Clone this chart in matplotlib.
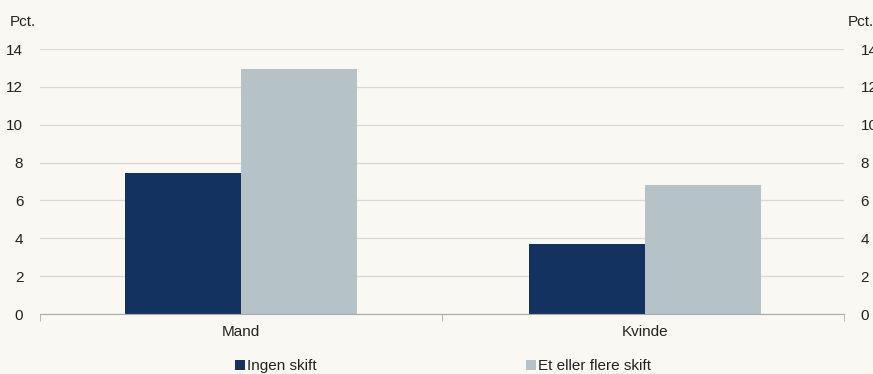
import matplotlib.pyplot as plt
import numpy as np

CATEGORIES = ["Mand", "Kvinde"]
SERIES_NAMES = ["Ingen skift", "Et eller flere skift"]
INGEN_SKIFT = [7.45, 3.72]
FLERE_SKIFT = [12.95, 6.8]
Y_TICKS = [0, 2, 4, 6, 8, 10, 12, 14]

BACKGROUND = "#f9f8f2"
DARK = "#14325f"
LIGHT = "#b5c3c8"

plt.rcParams["font.family"] = ["Liberation Sans", "DejaVu Sans"]


def main() -> None:
    figure = plt.figure(figsize=(8.73, 3.74), dpi=100)
    figure.patch.set_facecolor(BACKGROUND)

    axis = figure.add_axes([40 / 873, 60 / 374, 804 / 873, 265 / 374])
    axis.set_facecolor(BACKGROUND)

    positions = np.array([0.0, 1.005])
    width = 0.289

    axis.bar(positions - width / 2, INGEN_SKIFT, width,
             color=DARK, label=SERIES_NAMES[0], zorder=3)
    axis.bar(positions + width / 2, FLERE_SKIFT, width,
             color=LIGHT, label=SERIES_NAMES[1], zorder=3)

    axis.set_xlim(-0.5, len(CATEGORIES) - 0.5)
    axis.set_ylim(0, 14)
    axis.set_yticks(Y_TICKS)
    axis.set_xticks(positions)
    axis.set_xticklabels(CATEGORIES, fontsize=11, color="#222222")
    axis.set_xticks(np.arange(-0.5, len(CATEGORIES)), minor=True)
    axis.tick_params(axis="x", which="major", length=0, pad=8)
    axis.tick_params(axis="x", which="minor", length=5, color="#aaaaaa",
                     direction="out")
    axis.tick_params(axis="y", length=0, labelsize=11, colors="#222222",
                     pad=12, labelright=True)

    axis.grid(axis="y", color="#d8d8d4", linewidth=0.9, zorder=0)

    for side in ["top", "left", "right"]:
        axis.spines[side].set_visible(False)
    axis.spines["bottom"].set_color("#aaaaaa")
    axis.spines["bottom"].set_zorder(4)

    figure.text(10 / 873, 1 - 22 / 374, "Pct.", fontsize=11,
                color="#222222", va="center", ha="left")
    figure.text(848 / 873, 1 - 22 / 374, "Pct.", fontsize=11,
                color="#222222", va="center", ha="left")

    figure.legend(
        loc="center",
        bbox_to_anchor=(443 / 873, 1 - 366 / 374),
        ncol=2,
        frameon=False,
        fontsize=11,
        handlelength=0.65,
        handleheight=0.65,
        handletextpad=0.15,
        columnspacing=13.7,
        labelcolor="#222222",
    )

    figure.savefig("out.png", dpi=100, facecolor=BACKGROUND)
    plt.close(figure)


if __name__ == "__main__":
    main()
